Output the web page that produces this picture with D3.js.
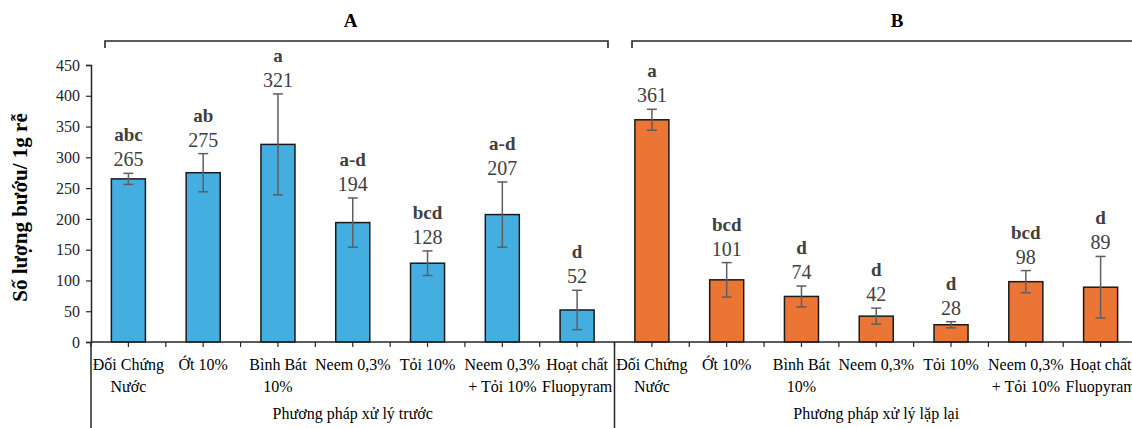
<!DOCTYPE html>
<html>
<head>
<meta charset="utf-8">
<script src="https://cdn.jsdelivr.net/npm/d3@7"></script>
<style>
  body { margin: 0; background: #fff; overflow: hidden; }
  svg { display: block; font-family: "Liberation Serif", "Times New Roman", serif; }
</style>
</head>
<body>
<div id="chart"></div>
<script>
// treatments (same for both groups), each label split in lines
const treatments = [
  ["Đối Chứng", "Nước"],
  ["Ớt 10%"],
  ["Bình Bát", "10%"],
  ["Neem 0,3%"],
  ["Tỏi 10%"],
  ["Neem 0,3%", "+ Tỏi 10%"],
  ["Hoạt chất", "Fluopyram"]
]
const groupNames = ["Phương pháp xử lý trước", "Phương pháp xử lý lặp lại"]
const panelNames = ["A", "B"]

// group A: xử lý trước
const valuesA = [265, 275, 321, 194, 128, 207, 52]
const errA = [9, 31, 82, 40, 20, 53, 32]
const lettersA = ["abc", "ab", "a", "a-d", "bcd", "a-d", "d"]

// group B: xử lý lặp lại
const valuesB = [361, 101, 74, 42, 28, 98, 89]
const errB = [17, 28, 17, 13, 5, 18, 50]
const lettersB = ["a", "bcd", "d", "d", "d", "bcd", "d"]

const yTicks = [0, 50, 100, 150, 200, 250, 300, 350, 400, 450]
const yTitle = "Số lượng bướu/ 1g rễ"

const W = 1132, H = 428
const margin = {left: 91, top: 65, bottom: 86}
const plotW = 1047 // runs past the right edge like the original
const plotBottom = H - margin.bottom

// build rows
const rows = []
valuesA.forEach((v, i) => rows.push({g: 0, i: i, v: v, e: errA[i], l: lettersA[i]}))
valuesB.forEach((v, i) => rows.push({g: 1, i: i, v: v, e: errB[i], l: lettersB[i]}))
rows.forEach((d, k) => d.key = k)

const svg = d3.select("#chart").append("svg")
  .attr("width", W).attr("height", H)

const x = d3.scaleBand()
  .domain(rows.map(d => d.key))
  .range([margin.left, margin.left + plotW])
  .padding(0)

const y = d3.scaleLinear()
  .domain([0, 450])
  .range([plotBottom, margin.top])

const barW = x.bandwidth() * 0.455
const colors = ["#45AEE0", "#EA7534"]

// y axis
const yAxis = svg.append("g")
  .attr("transform", `translate(${margin.left},0)`)
  .call(d3.axisLeft(y).tickValues(yTicks).tickSize(5).tickPadding(6))
yAxis.attr("font-family", null)
yAxis.select(".domain").attr("stroke", "#262626").attr("stroke-width", 1.5)
yAxis.selectAll(".tick line").attr("stroke", "#262626").attr("stroke-width", 1.2)
yAxis.selectAll(".tick text")
  .style("font-family", "Liberation Serif").style("font-size", "16px").attr("fill", "#262626")

// y title
svg.append("text")
  .attr("transform", `translate(27, ${(margin.top + plotBottom) / 2 + 4}) rotate(-90)`)
  .attr("text-anchor", "middle")
  .style("font-size", "21px").style("font-weight", "bold")
  .attr("fill", "#000")
  .text(yTitle)

// bars
svg.append("g").selectAll("rect")
  .data(rows).enter().append("rect")
    .attr("x", d => x(d.key) + (x.bandwidth() - barW) / 2)
    .attr("y", d => y(d.v))
    .attr("width", barW)
    .attr("height", d => y(0) - y(d.v))
    .attr("fill", d => colors[d.g])
    .attr("stroke", "#1a1a1a")
    .attr("stroke-width", 1.5)

// error bars
const eb = svg.append("g").attr("stroke", "#5f5f5f").attr("stroke-width", 1.5)
rows.forEach(d => {
  const cx = x(d.key) + x.bandwidth() / 2
  eb.append("line").attr("x1", cx).attr("x2", cx).attr("y1", y(d.v + d.e)).attr("y2", y(d.v - d.e))
  eb.append("line").attr("x1", cx - 5).attr("x2", cx + 5).attr("y1", y(d.v + d.e)).attr("y2", y(d.v + d.e))
  eb.append("line").attr("x1", cx - 5).attr("x2", cx + 5).attr("y1", y(d.v - d.e)).attr("y2", y(d.v - d.e))
})

// value labels and letters
const lab = svg.append("g").attr("text-anchor", "middle")
rows.forEach(d => {
  const cx = x(d.key) + x.bandwidth() / 2
  const base = y(d.v + d.e) - 7
  lab.append("text").attr("x", cx).attr("y", base)
    .style("font-size", "20px").attr("fill", "#404040").text(d.v)
  lab.append("text").attr("x", cx).attr("y", base - 25)
    .style("font-size", "19px").style("font-weight", "bold").attr("fill", "#404040").text(d.l)
})

// x axis line
svg.append("line")
  .attr("x1", margin.left).attr("x2", W)
  .attr("y1", y(0)).attr("y2", y(0))
  .attr("stroke", "#262626").attr("stroke-width", 1.5)

// small ticks every half category
const xt = svg.append("g").attr("stroke", "#262626").attr("stroke-width", 1.2)
rows.forEach(d => {
  [x(d.key), x(d.key) + x.bandwidth() / 2].forEach(px => {
    xt.append("line").attr("x1", px).attr("x2", px).attr("y1", y(0)).attr("y2", y(0) + 5)
  })
})
// group separators down to the bottom
;[0, 7, 14].forEach(k => {
  const px = k < 14 ? x(k) : margin.left + plotW
  xt.append("line").attr("x1", px).attr("x2", px).attr("y1", y(0)).attr("y2", H)
    .attr("stroke-width", 1.5)
})

// category labels
const cl = svg.append("g").attr("text-anchor", "middle")
  .style("font-size", "16px").attr("fill", "#000")
rows.forEach(d => {
  const cx = x(d.key) + x.bandwidth() / 2
  treatments[d.i].forEach((t, j) => {
    cl.append("text").attr("x", cx).attr("y", plotBottom + 28 + j * 22).text(t)
  })
})

// group labels
groupNames.forEach((g, gi) => {
  const x0 = x(gi * 7), x1 = gi === 0 ? x(7) : margin.left + plotW
  cl.append("text").attr("x", (x0 + x1) / 2).attr("y", H - 9).text(g)
})

// brackets with panel letters on top
const brackets = [[105, 608], [632, 1165]]
const bk = svg.append("g").attr("fill", "none").attr("stroke", "#262626").attr("stroke-width", 1.6)
brackets.forEach((b, bi) => {
  bk.append("path").attr("d", `M${b[0]},48 V41 H${b[1]} V48`)
  svg.append("text")
    .attr("x", bi === 0 ? (b[0] + b[1]) / 2 - 6 : 897)
    .attr("y", 27)
    .attr("text-anchor", "middle")
    .style("font-size", "19px").style("font-weight", "bold")
    .text(panelNames[bi])
})
</script>
</body>
</html>
